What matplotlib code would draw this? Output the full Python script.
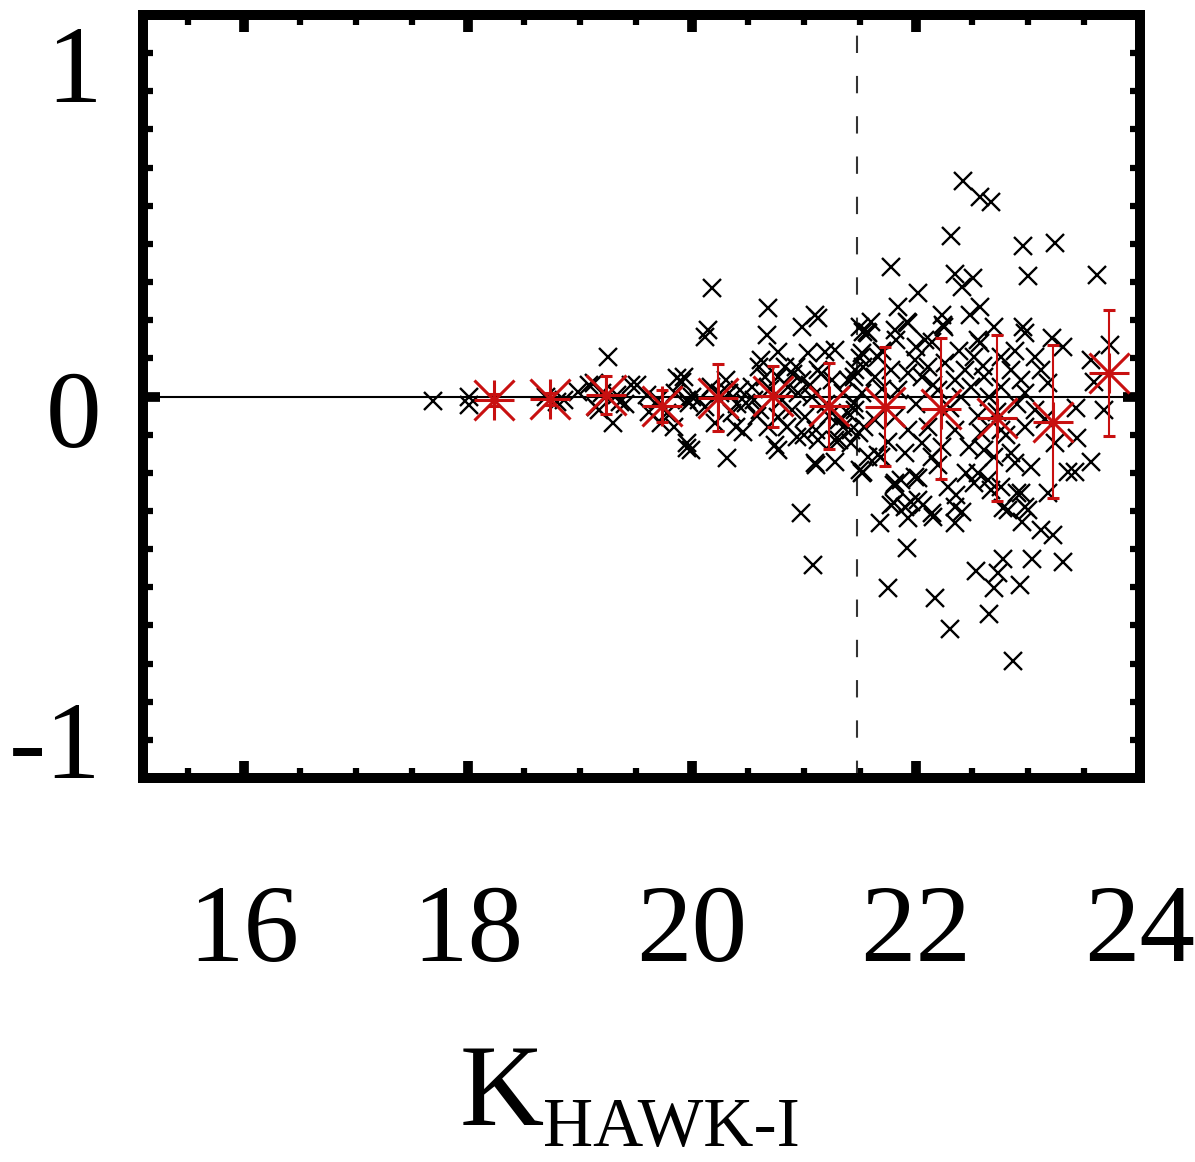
import matplotlib
matplotlib.use("Agg")
import matplotlib.pyplot as plt
from matplotlib.ticker import MultipleLocator, FixedLocator
from matplotlib.transforms import ScaledTranslation

plt.rcParams['font.family'] = ['Liberation Serif', 'DejaVu Serif']
plt.rcParams['lines.scale_dashes'] = False

# ---- individual sources: K_HAWK-I magnitude and difference ----
mag = [
    17.69, 18.01, 18.01, 18.70, 18.80, 18.86, 18.98, 19.13, 19.25, 19.14,
    19.30, 19.33, 19.36, 19.51, 19.62, 19.72, 19.87, 19.91, 19.78, 19.96,
    19.96, 19.96, 19.84, 19.46, 19.17, 19.08, 19.20, 19.40, 19.60, 19.70,
    19.85,
    20.18, 20.14, 20.12, 20.68, 20.67, 20.98, 21.10, 21.13, 19.99, 20.31,
    20.46, 20.68, 20.74, 20.77, 20.94, 21.10, 21.28, 21.50, 21.50, 21.53,
    21.28, 19.93, 19.97, 20.00, 20.06, 20.12, 20.17, 20.30, 20.33, 20.36,
    20.43, 20.48, 20.54, 20.60, 20.62, 20.61, 20.77, 20.77, 20.83, 20.86,
    20.89, 20.93, 20.98, 21.04, 21.01, 21.07, 21.11, 21.13, 21.19, 21.28,
    21.25, 21.31, 21.39, 21.39, 21.45, 21.50, 21.42, 21.54, 21.53, 20.21,
    20.39, 20.77, 21.13, 21.31, 21.42,
    20.25, 20.40, 20.55, 20.70, 20.80, 20.95, 21.05, 21.20, 21.35, 21.45,
    20.65, 20.90, 21.15, 21.22, 20.85, 21.00, 20.58, 21.35,
    22.42, 22.57, 22.67, 22.31, 22.96, 23.24, 21.78, 23.00, 23.62, 22.35,
    22.41, 22.51, 22.02, 21.84, 21.92, 22.23, 22.25, 22.48, 22.57, 21.60,
    21.56, 21.81, 21.82, 22.70, 22.96, 22.97, 23.21, 22.14, 22.55, 23.73,
    21.57, 21.93, 22.24, 22.08, 22.57, 23.31, 21.52, 21.66, 21.46, 21.63,
    21.78, 21.93, 21.99, 22.11, 22.26, 22.35, 22.44, 22.52, 22.61, 22.76,
    22.85, 22.94, 23.06, 23.12, 23.18, 23.56, 23.59, 22.20, 22.49, 22.76,
    22.97, 21.84, 21.52, 23.43, 23.68, 21.46, 21.49, 21.63, 21.81, 21.93,
    22.11, 22.05, 22.23, 22.35, 22.47, 22.61, 22.58, 22.76, 22.85, 22.97,
    23.06, 23.24, 23.44, 23.56, 23.36, 23.42, 21.57, 21.53, 21.69, 21.90,
    22.14, 22.70, 22.88, 21.81, 21.87, 21.99, 21.80, 21.90, 22.02, 22.14,
    22.29, 22.35, 22.52, 22.64, 22.76, 22.82, 22.94, 23.00, 23.18,
    21.70, 22.00, 22.15, 22.30, 22.40, 22.55, 22.65, 22.72, 22.90, 23.15,
    22.05, 22.38, 22.45, 22.20, 22.60, 22.80, 21.75, 22.00, 21.70, 22.88,
    21.11, 21.52, 21.66, 21.80, 22.02, 21.78, 21.96, 22.06, 21.93, 21.68,
    22.15, 22.35, 22.41, 22.36, 22.55, 22.67, 22.78, 22.97, 22.95, 22.90,
    23.12, 23.22, 23.03, 20.97, 21.08, 21.75, 21.92, 22.17, 22.30, 22.54,
    22.65, 22.73, 22.78, 22.70, 22.93, 23.04, 23.31, 22.87,
]
diff = [
    -0.012, 0.000, -0.022, 0.000, -0.014, -0.009, 0.013, 0.035, 0.104, -0.027,
    -0.070, 0.004, -0.014, 0.030, -0.040, -0.070, 0.048, 0.039, -0.044, -0.123,
    -0.136, -0.009, -0.079, 0.030, -0.035, 0.030, 0.010, -0.020, 0.005, -0.010,
    0.010,
    0.284, 0.174, 0.157, 0.231, 0.161, 0.183, 0.214, 0.205, -0.140, -0.162,
    -0.092, -0.079, -0.127, -0.140, -0.105, -0.175, -0.171, -0.193, 0.183, 0.170,
    -0.114, 0.052, -0.017, 0.000, -0.009, -0.027, 0.026, 0.043, 0.008, -0.044,
    0.017, -0.018, 0.026, 0.078, 0.096, -0.035, 0.117, 0.052, 0.078, 0.026,
    -0.035, 0.078, 0.043, 0.113, -0.053, 0.000, -0.088, 0.069, 0.117, 0.122,
    0.043, -0.062, 0.043, -0.044, -0.018, 0.100, -0.088, -0.079, 0.078, -0.070,
    -0.079, -0.053, -0.114, -0.114, -0.123,
    0.010, -0.020, -0.010, 0.020, -0.010, 0.010, 0.030, -0.020, 0.010, 0.050,
    0.050, 0.060, 0.060, -0.050, -0.080, -0.100, -0.050, -0.080,
    0.566, 0.522, 0.511, 0.421, 0.394, 0.403, 0.340, 0.316, 0.318, 0.321,
    0.288, 0.310, 0.270, 0.235, 0.196, 0.214, 0.183, 0.214, 0.235, 0.196,
    0.170, 0.174, 0.148, 0.183, 0.183, 0.166, 0.153, 0.144, 0.148, 0.135,
    0.166, 0.192, 0.187, 0.148, 0.139, 0.131, 0.113, 0.104, 0.069, 0.052,
    0.069, 0.061, 0.096, 0.078, 0.087, 0.043, 0.069, 0.104, 0.052, 0.104,
    0.069, 0.043, 0.104, 0.069, 0.035, 0.096, 0.039, 0.017, 0.026, 0.026,
    0.008, 0.017, 0.008, -0.031, -0.035, -0.035, -0.096, -0.062, -0.053, -0.088,
    -0.079, -0.123, -0.132, -0.088, -0.132, -0.140, -0.096, -0.088, -0.149, -0.079,
    -0.035, -0.123, -0.110, -0.171, -0.197, -0.197, -0.158, -0.197, -0.158, -0.149,
    -0.158, -0.158, -0.175, -0.228, -0.219, -0.210, -0.280, -0.289, -0.271, -0.306,
    -0.236, -0.289, -0.228, -0.219, -0.236, -0.298, -0.254, -0.298, -0.254,
    0.020, -0.020, 0.030, -0.030, 0.000, -0.050, 0.000, -0.040, -0.020, -0.060,
    0.050, 0.120, -0.200, -0.180, 0.080, -0.100, -0.120, 0.130, 0.120, 0.120,
    -0.180, -0.201, -0.153, -0.232, -0.214, -0.284, -0.276, -0.284, -0.319, -0.332,
    -0.315, -0.332, -0.302, -0.258, -0.201, -0.245, -0.293, -0.289, -0.328, -0.254,
    -0.350, -0.363, -0.184, -0.306, -0.442, -0.503, -0.396, -0.529, -0.610, -0.457,
    -0.571, -0.462, -0.426, -0.503, -0.494, -0.426, -0.433, -0.693,
]

# ---- binned medians with scatter ----
bin_mag = [18.23, 18.73, 19.23, 19.73, 20.23, 20.72, 21.22, 21.72, 22.22, 22.72, 23.22, 23.72]
bin_diff = [-0.009, -0.007, 0.004, -0.025, -0.003, 0.001, -0.025, -0.027, -0.032, -0.056, -0.066, 0.062]
bin_err = [0.015, 0.015, 0.051, 0.042, 0.088, 0.080, 0.112, 0.156, 0.185, 0.218, 0.200, 0.165]

cut_mag = 21.47
xticks = [16, 18, 20, 22, 24]
yticks = [-1, 0, 1]
ytick_labels = ['-1', '0', '1']

RED = '#c81010'
W, H = 1195, 1162

fig = plt.figure(figsize=(W / 100, H / 100), dpi=100)
ax = fig.add_axes([143 / W, 1 - 778 / H, (1140 - 143) / W, (778 - 15) / H])

ax.axhline(0, color='black', lw=1.5, zorder=2)
ax.axvline(cut_mag, color='0.2', lw=1.5, dashes=(12.5, 16.5), zorder=2)
ax.plot(mag, diff, 'x', ls='none', color='black', ms=12.5, mew=1.7, zorder=3)

ax.errorbar(bin_mag, bin_diff, yerr=bin_err, fmt='none', ecolor=RED,
            elinewidth=1.5, capsize=4, capthick=2.2, zorder=4)
ax.plot(bin_mag, bin_diff, '+', ls='none', color=RED, ms=29, mew=2.2, zorder=5)
ax.plot(bin_mag, bin_diff, 'x', ls='none', color=RED, ms=29, mew=2.2, zorder=5)

ax.set_xlim(15.1, 24.0)
ax.set_ylim(-1, 1)

for s in ax.spines.values():
    s.set_linewidth(7.2)
    s.set_capstyle('projecting')

ax.xaxis.set_major_locator(FixedLocator(xticks))
ax.xaxis.set_minor_locator(MultipleLocator(0.5))
ax.yaxis.set_major_locator(FixedLocator(yticks))
ax.yaxis.set_minor_locator(MultipleLocator(0.1))
ax.set_yticklabels(ytick_labels)

ax.tick_params(which='both', direction='in', top=True, right=True, colors='black')
ax.tick_params(which='major', length=12, width=7)
ax.tick_params(which='minor', length=7, width=4.5)
ax.tick_params(axis='x', which='major', labelsize=80, pad=77)
ax.tick_params(axis='y', which='major', labelsize=80, pad=30)

# vertical placement of y labels (baseline-aligned, shifted as in the original)
offsets_px = {'1': -87, '0': -50, '-1': 0}
for lab in ax.get_yticklabels():
    lab.set_va('baseline')
    dy = offsets_px.get(lab.get_text(), 0)
    lab.set_transform(lab.get_transform() + ScaledTranslation(0, dy / 100, fig.dpi_scale_trans))

fig.text(460 / W, 1 - 1125 / H, 'K', fontsize=84, ha='left', va='baseline')
fig.text(543 / W, 1 - 1146 / H, 'HAWK-I', fontsize=50, ha='left', va='baseline')

fig.savefig('out.png', dpi=100)
